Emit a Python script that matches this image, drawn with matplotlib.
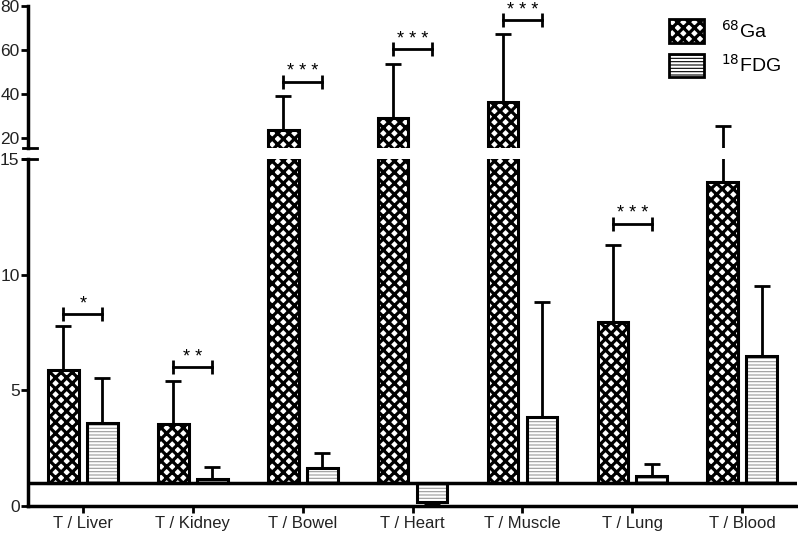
import numpy as np
import matplotlib
matplotlib.use('Agg')
import matplotlib.pyplot as plt
from matplotlib.patches import Patch

plt.rcParams['font.family'] = ['Liberation Sans', 'DejaVu Sans']

categories = ['T / Liver', 'T / Kidney', 'T / Bowel', 'T / Heart', 'T / Muscle', 'T / Lung', 'T / Blood']
ga_vals = [5.86, 3.55, 23.7, 29.3, 36.4, 7.95, 14.0]
ga_err = [1.93, 1.87, 15.5, 24.3, 30.8, 3.35, 11.5]
fdg_vals = [3.59, 1.15, 1.66, 0.19, 3.85, 1.3, 6.5]
fdg_err_up = [1.96, 0.55, 0.65, 0.0, 4.95, 0.5, 3.0]
fdg_err_down = [0, 0, 0, 0.09, 0, 0, 0]
# significance brackets: category index, height, label
sig_idx = [0, 1, 2, 3, 4, 5]
sig_y = [8.3, 6.0, 45.6, 60.3, 73.6, 12.2]
sig_txt = ['*', '**', '***', '***', '***', '***']

baseline = 1.0
brk = 15
x = np.arange(len(categories))
off = 0.177
w = 0.28
GA_HLW = 2.3
FDG_HLW = 0.8

fig = plt.figure(figsize=(7.98, 5.33), dpi=100)
ax = fig.add_axes([0.035, 0.0507, 0.964, 0.651])
axt = fig.add_axes([0.035, 0.7223, 0.964, 0.2664])

ga_h = [v - baseline for v in ga_vals]
fdg_h = [v - baseline for v in fdg_vals]

for a in (ax, axt):
    plt.rcParams['hatch.linewidth'] = GA_HLW
    a.bar(x - off, ga_h, w, bottom=baseline, color='white', edgecolor='black',
          hatch='xxx', linewidth=2.2, zorder=2)
    plt.rcParams['hatch.linewidth'] = FDG_HLW
    a.bar(x + off, fdg_h, w, bottom=baseline, color='white', edgecolor='#9a9a9a',
          hatch='-----', linewidth=0, zorder=2)
    a.bar(x + off, fdg_h, w, bottom=baseline, color='none', edgecolor='black',
          linewidth=2.2, zorder=3)
    a.errorbar(x - off, ga_vals, yerr=[np.zeros(len(x)), ga_err], fmt='none',
               ecolor='black', elinewidth=2, capsize=6, capthick=2, zorder=1)
    a.errorbar(x + off, fdg_vals, yerr=[fdg_err_down, fdg_err_up], fmt='none',
               ecolor='black', elinewidth=2, capsize=6, capthick=2, zorder=1)
    a.set_xlim(-0.5, 6.5)
    for s in ('top', 'right'):
        a.spines[s].set_visible(False)
    a.spines['left'].set_linewidth(2.5)
    a.tick_params(axis='y', width=2, length=5, labelsize=12.5, colors='black',
                  labelcolor='#222222', pad=1)

for i, yv, t in zip(sig_idx, sig_y, sig_txt):
    a = axt if yv > brk else ax
    a.plot([x[i] - off, x[i] + off], [yv, yv], color='black', lw=2,
           marker='|', ms=10, mew=2)
    a.annotate(' '.join(t), (x[i], yv), xytext=(0, 1), textcoords='offset points',
               ha='center', va='bottom', fontsize=13)

ax.set_ylim(0, 15)
ax.set_yticks([0, 5, 10, 15])
ax.axhline(baseline, color='black', lw=2.5, zorder=4)
ax.spines['bottom'].set_linewidth(2.5)
ax.set_xticks(x)
ax.set_xticklabels(categories)
ax.tick_params(axis='x', width=2, length=5, labelsize=12, labelcolor='#222222', pad=2)

axt.set_ylim(15.5, 80)
axt.set_yticks([20, 40, 60, 80])
axt.spines['bottom'].set_visible(False)
axt.set_xticks([])

# small end caps at the axis break
axt.plot([-0.006, 0.012], [0, 0], color='black', lw=2, transform=axt.transAxes, clip_on=False)
ax.plot([-0.006, 0.012], [1, 1], color='black', lw=2, transform=ax.transAxes, clip_on=False)

h1 = Patch(facecolor='white', edgecolor='black', hatch='xxx', linewidth=2)
h2 = Patch(facecolor='white', edgecolor='black', hatch='-----', linewidth=2)
leg = axt.legend([h1, h2], ['$^{68}$Ga', '$^{18}$FDG'], loc='upper left',
                 bbox_to_anchor=(0.81, 1.03), frameon=False, fontsize=14,
                 handlelength=1.8, handleheight=1.5, labelspacing=0.55, handletextpad=0.9)
for p, hl in zip(leg.get_patches(), [GA_HLW, FDG_HLW]):
    if hasattr(p, 'set_hatch_linewidth'):
        p.set_hatch_linewidth(hl)
    else:
        p._hatch_linewidth = hl

fig.savefig('out.png', dpi=100)
